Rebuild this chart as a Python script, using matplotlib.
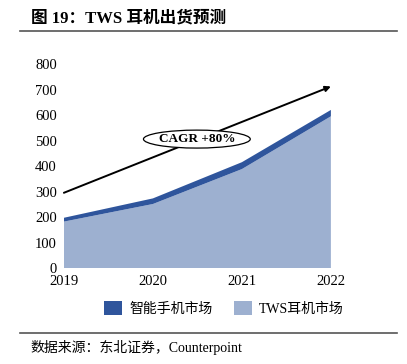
import matplotlib
matplotlib.use("Agg")
import matplotlib.pyplot as plt
from matplotlib.lines import Line2D
from matplotlib.patches import Patch, Ellipse

plt.rcParams['font.family'] = ['Liberation Serif', 'Noto Sans CJK SC', 'DejaVu Sans']

years = [2019, 2020, 2021, 2022]
tws = [182, 251, 388, 595]
phone = [15, 22, 27, 25]
yticks = [0, 100, 200, 300, 400, 500, 600, 700, 800]
series_names = ['智能手机市场', 'TWS耳机市场']
title = '图 19：TWS 耳机出货预测'
source = '数据来源：东北证券，Counterpoint'
cagr_label = 'CAGR +80%'
arrow_start = (2019, 295)
arrow_end = (2022, 712)

c_dark = '#2F559C'
c_light = '#9DB0D0'

fig = plt.figure(figsize=(4.07, 3.64), dpi=100)
ax = fig.add_axes([0.157, 0.2637, 0.656, 0.5604])
ax.stackplot(years, tws, phone, colors=[c_light, c_dark], linewidth=0)
ax.set_xlim(2019, 2022)
ax.set_ylim(0, 800)
ax.set_yticks(yticks)
ax.set_xticks(years)
ax.tick_params(length=0, labelsize=10.5)
ax.tick_params(axis='y', pad=5)
ax.tick_params(axis='x', pad=5)
for s in ax.spines.values():
    s.set_visible(False)

ax.annotate('', xy=arrow_end, xytext=arrow_start,
            arrowprops=dict(arrowstyle='-|>', color='black', lw=1.4, mutation_scale=8,
                            shrinkA=0, shrinkB=0))
ax.add_patch(Ellipse((0.498, 0.632), 0.40, 0.088, transform=ax.transAxes,
                     facecolor='white', edgecolor='black', lw=0.9, zorder=3))
ax.text(0.498, 0.632, cagr_label, transform=ax.transAxes, ha='center', va='center',
        fontsize=9.5, fontweight='bold', zorder=4)

handles = [Patch(facecolor=c_dark), Patch(facecolor=c_light)]
fig.legend(handles, series_names, loc='center', bbox_to_anchor=(0.55, 0.152), ncol=2,
           frameon=False, fontsize=10, handlelength=1.3, handleheight=1.1, columnspacing=1.5,
           handletextpad=0.5)

fig.text(0.075, 0.95, title, fontsize=12, fontweight='bold', va='center', ha='left')
fig.add_artist(Line2D([0.05, 0.975], [0.915, 0.915], color='#555555', lw=1.2))
fig.add_artist(Line2D([0.05, 0.975], [0.085, 0.085], color='#555555', lw=1.2))
fig.text(0.075, 0.045, source, fontsize=10, va='center', ha='left')

fig.savefig('out.png', dpi=100)
